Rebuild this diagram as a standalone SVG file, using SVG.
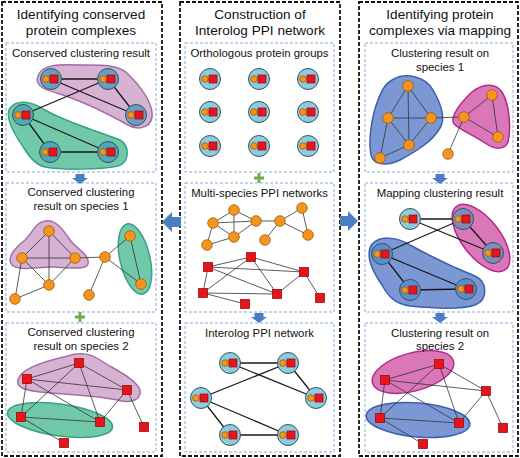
<svg xmlns="http://www.w3.org/2000/svg" width="520" height="458" viewBox="0 0 520 458">
<style>
.col{fill:none;stroke:#111;stroke-width:1.8;stroke-dasharray:4 2}
.pan{fill:#fff;stroke:#86a9d9;stroke-width:1;stroke-dasharray:3 2}
.ct{font-family:"Liberation Sans",Arial,sans-serif;font-size:13.6px;fill:#111;text-anchor:middle}
.pt{font-family:"Liberation Sans",Arial,sans-serif;font-size:11.4px;fill:#111;text-anchor:middle}
.e1{stroke:#1a1a1a;stroke-width:1.3;fill:none}
.e2{stroke:#333;stroke-width:0.8;fill:none}
.oc{stroke:#2b5766;stroke-width:1}
.o{fill:#f7941e;stroke:#9a5c06;stroke-width:0.8}
.r{fill:#e8141c;stroke:#8e0a0a;stroke-width:0.7}
.nb{fill:#90cade}
.npk{fill:#6c9cbf}
.ngr{fill:#4ea8b6}
.nmg{fill:#7f8bbd}
.nbl{fill:#5b8dc8}
.cpk{fill:#d7b2d2;stroke:#a26fa2;stroke-width:1.5}
.cgr{fill:#72c9aa;stroke:#36a384;stroke-width:1.5}
.cbl{fill:#7b98d5;stroke:#3b5fae;stroke-width:1.5}
.cmg{fill:#d977b9;stroke:#b3288b;stroke-width:1.5}
.arr{fill:#4a7dc2}
.plus{fill:#6fac46}
</style>
<defs>
<g id="pn"><circle class="oc" r="10.5"/><circle class="o" cx="-5" r="3.3"/><rect class="r" x="-1" y="-4" width="8" height="8"/></g>
<circle id="on" class="o" r="5.3"/>
<rect id="rn" class="r" x="-4.6" y="-4.6" width="9.2" height="9.2"/>
</defs>

<g id="columns">
<rect class="col" x="2" y="2" width="160" height="454"/>
<rect class="col" x="180" y="2" width="160" height="454"/>
<rect class="col" x="359" y="2" width="159" height="454"/>
</g>
<g id="panels">
<rect class="pan" x="6" y="43" width="150" height="129"/>
<rect class="pan" x="6" y="183" width="150" height="129"/>
<rect class="pan" x="6" y="323" width="150" height="129"/>
<rect class="pan" x="185" y="43" width="149" height="129"/>
<rect class="pan" x="185" y="183" width="149" height="129"/>
<rect class="pan" x="185" y="323" width="149" height="129"/>
<rect class="pan" x="365" y="43" width="148" height="129"/>
<rect class="pan" x="365" y="183" width="148" height="129"/>
<rect class="pan" x="365" y="323" width="148" height="129"/>
</g>

<g id="clusters">
<path class="cpk" d="M38,76 C42,64 60,64 80,65 C100,65 118,64 128,74 C138,84 150,98 152,112 C154,126 140,132 128,125 C110,115 85,102 60,94 C45,90 34,86 38,76 Z"/>
<path class="cgr" d="M10,108 C16,100 30,100 45,110 C65,122 100,132 120,140 C130,146 130,162 118,166 C100,170 60,170 45,167 C35,165 28,155 22,145 C15,135 4,118 10,108 Z"/>
<path class="cpk" d="M45,221 C55,219 62,228 70,240 C78,250 90,255 88,264 C86,270 70,268 55,267 C40,266 20,272 12,265 C6,258 15,248 25,240 C33,232 36,222 45,221 Z"/>
<ellipse class="cgr" cx="135" cy="259" rx="15" ry="36" transform="rotate(-13 135 259)"/>
<path class="cpk" d="M18,380 C20,368 50,360 68,356 C78,352 90,353 100,360 C115,370 135,378 140,390 C142,400 130,404 118,400 C95,395 60,394 40,392 C25,390 16,388 18,380 Z"/>
<ellipse class="cgr" cx="60" cy="420" rx="53" ry="16" transform="rotate(8 60 420)"/>
<path class="cbl" d="M392,80 C405,72 425,76 433,90 C440,102 446,118 440,128 C432,142 415,152 400,160 C388,166 374,166 371,155 C368,140 372,115 378,100 C382,90 385,84 392,80 Z"/>
<path class="cmg" d="M472,92 C482,84 495,82 502,92 C510,105 511,130 508,142 C505,150 495,150 485,143 C475,136 460,130 454,124 C450,118 458,105 472,92 Z"/>
<ellipse class="cmg" cx="481" cy="238" rx="40" ry="19" transform="rotate(52 481 238)"/>
<path class="cbl" d="M372,244 C380,236 395,236 410,245 C430,256 455,268 475,276 C488,282 488,300 475,305 C460,310 430,308 410,306 C395,304 388,296 382,285 C375,275 364,256 372,244 Z"/>
<ellipse class="cmg" cx="413" cy="372" rx="42" ry="19" transform="rotate(-15 413 372)"/>
<ellipse class="cbl" cx="418" cy="420" rx="52" ry="17" transform="rotate(5 418 420)"/>
</g>

<g id="connectors">
<path class="e1" d="M51,79 L108,79 M51,79 L136,115 M108,79 L136,115 M108,79 L23,115 M23,115 L50,152 M23,115 L108,152 M50,152 L108,152"/>
<path class="e1" d="M230,363 L288,363 M230,363 L316,398 M288,363 L316,398 M288,363 L201,398 M201,398 L230,435 M201,398 L288,435 M230,435 L288,435"/>
<path class="e1" d="M410,219 L463,219 M410,219 L493,253 M463,219 L493,253 M463,219 L382,254 M382,254 L410,290 M382,254 L466,289 M410,290 L466,289"/>
<path class="e2" d="M49,231 L22,258 M49,231 L75,258 M49,231 L49,285 M22,258 L75,258 M22,258 L49,285 M75,258 L49,285 M22,258 L15,299 M15,299 L49,285 M75,258 L105,257 M105,257 L130,236 M105,257 L141,284 M130,236 L141,284 M105,257 L89,295"/>
<path class="e2" d="M234,210 L213,223 M234,210 L256,221 M234,210 L234,237 M213,223 L256,221 M213,223 L234,237 M256,221 L234,237 M213,223 L207,245 M207,245 L234,237 M256,221 L280,221 M280,221 L302,208 M280,221 L308,235 M302,208 L308,235 M280,221 L265,240"/>
<path class="e2" d="M408,86 L388,118 M408,86 L431,118 M408,86 L409,145 M388,118 L431,118 M388,118 L409,145 M431,118 L409,145 M388,118 L380,158 M380,158 L409,145 M431,118 L464,117 M464,117 L492,95 M464,117 L498,137 M492,95 L498,137 M464,117 L448,154"/>
<path class="e2" d="M79,363 L27,379 M79,363 L127,390 M79,363 L21,417 M79,363 L100,422 M27,379 L127,390 M27,379 L21,417 M27,379 L100,422 M127,390 L100,422 M127,390 L144,427 M21,417 L100,422 M21,417 L64,443"/>
<path class="e2" d="M251,257 L208,267 M251,257 L304,272 M251,257 L203,293 M251,257 L277,294 M208,267 L304,272 M208,267 L203,293 M208,267 L277,294 M304,272 L277,294 M304,272 L320,298 M203,293 L277,294 M203,293 L245,304"/>
<path class="e2" d="M439,364 L385,380 M439,364 L486,391 M439,364 L380,418 M439,364 L459,423 M385,380 L486,391 M385,380 L380,418 M385,380 L459,423 M486,391 L459,423 M486,391 L503,428 M380,418 L459,423 M380,418 L423,444"/>
</g>

<g id="nodes-L1">
<g id="L1a"><use href="#pn" class="npk" x="51" y="79"/></g>
<g id="L1b"><use href="#pn" class="npk" x="108" y="79"/></g>
<g id="L1c"><use href="#pn" class="npk" x="136" y="115"/></g>
<g id="L1d"><use href="#pn" class="ngr" x="23" y="115"/></g>
<g id="L1e"><use href="#pn" class="ngr" x="50" y="152"/></g>
<g id="L1f"><use href="#pn" class="ngr" x="108" y="152"/></g>
</g>
<g id="nodes-L2">
<g id="L2a"><use href="#on" x="49" y="231"/></g>
<g id="L2b"><use href="#on" x="22" y="258"/></g>
<g id="L2c"><use href="#on" x="75" y="258"/></g>
<g id="L2d"><use href="#on" x="49" y="285"/></g>
<g id="L2e"><use href="#on" x="15" y="299"/></g>
<g id="L2f"><use href="#on" x="105" y="257"/></g>
<g id="L2g"><use href="#on" x="130" y="236"/></g>
<g id="L2h"><use href="#on" x="141" y="284"/></g>
<g id="L2i"><use href="#on" x="89" y="295"/></g>
</g>
<g id="nodes-L3">
<g id="L3a"><use href="#rn" x="79" y="363"/></g>
<g id="L3b"><use href="#rn" x="27" y="379"/></g>
<g id="L3c"><use href="#rn" x="127" y="390"/></g>
<g id="L3d"><use href="#rn" x="21" y="417"/></g>
<g id="L3e"><use href="#rn" x="100" y="422"/></g>
<g id="L3f"><use href="#rn" x="144" y="427"/></g>
<g id="L3g"><use href="#rn" x="64" y="443"/></g>
</g>
<g id="nodes-M1">
<g id="M1a"><use href="#pn" class="nb" x="210" y="79"/></g>
<g id="M1b"><use href="#pn" class="nb" x="259" y="79"/></g>
<g id="M1c"><use href="#pn" class="nb" x="308" y="79"/></g>
<g id="M1d"><use href="#pn" class="nb" x="210" y="112"/></g>
<g id="M1e"><use href="#pn" class="nb" x="259" y="112"/></g>
<g id="M1f"><use href="#pn" class="nb" x="308" y="112"/></g>
<g id="M1g"><use href="#pn" class="nb" x="210" y="146"/></g>
<g id="M1h"><use href="#pn" class="nb" x="259" y="146"/></g>
<g id="M1i"><use href="#pn" class="nb" x="308" y="146"/></g>
</g>
<g id="nodes-M2">
<g id="M2a"><use href="#on" x="234" y="210"/></g>
<g id="M2b"><use href="#on" x="213" y="223"/></g>
<g id="M2c"><use href="#on" x="256" y="221"/></g>
<g id="M2d"><use href="#on" x="234" y="237"/></g>
<g id="M2e"><use href="#on" x="207" y="245"/></g>
<g id="M2f"><use href="#on" x="280" y="221"/></g>
<g id="M2g"><use href="#on" x="302" y="208"/></g>
<g id="M2h"><use href="#on" x="308" y="235"/></g>
<g id="M2i"><use href="#on" x="265" y="240"/></g>
<g id="M2r1"><use href="#rn" x="251" y="257"/></g>
<g id="M2r2"><use href="#rn" x="208" y="267"/></g>
<g id="M2r3"><use href="#rn" x="304" y="272"/></g>
<g id="M2r4"><use href="#rn" x="203" y="293"/></g>
<g id="M2r5"><use href="#rn" x="277" y="294"/></g>
<g id="M2r6"><use href="#rn" x="320" y="298"/></g>
<g id="M2r7"><use href="#rn" x="245" y="304"/></g>
</g>
<g id="nodes-M3">
<g id="M3a"><use href="#pn" class="nb" x="230" y="363"/></g>
<g id="M3b"><use href="#pn" class="nb" x="288" y="363"/></g>
<g id="M3c"><use href="#pn" class="nb" x="316" y="398"/></g>
<g id="M3d"><use href="#pn" class="nb" x="201" y="398"/></g>
<g id="M3e"><use href="#pn" class="nb" x="230" y="435"/></g>
<g id="M3f"><use href="#pn" class="nb" x="288" y="435"/></g>
</g>
<g id="nodes-R1">
<g id="R1a"><use href="#on" x="408" y="86"/></g>
<g id="R1b"><use href="#on" x="388" y="118"/></g>
<g id="R1c"><use href="#on" x="431" y="118"/></g>
<g id="R1d"><use href="#on" x="409" y="145"/></g>
<g id="R1e"><use href="#on" x="380" y="158"/></g>
<g id="R1f"><use href="#on" x="464" y="117"/></g>
<g id="R1g"><use href="#on" x="492" y="95"/></g>
<g id="R1h"><use href="#on" x="498" y="137"/></g>
<g id="R1i"><use href="#on" x="448" y="154"/></g>
</g>
<g id="nodes-R2">
<g id="R2a"><use href="#pn" class="nb" x="410" y="219"/></g>
<g id="R2b"><use href="#pn" class="nmg" x="463" y="219"/></g>
<g id="R2c"><use href="#pn" class="nmg" x="493" y="253"/></g>
<g id="R2d"><use href="#pn" class="nbl" x="382" y="254"/></g>
<g id="R2e"><use href="#pn" class="nbl" x="410" y="290"/></g>
<g id="R2f"><use href="#pn" class="nbl" x="466" y="289"/></g>
</g>
<g id="nodes-R3">
<g id="R3a"><use href="#rn" x="439" y="364"/></g>
<g id="R3b"><use href="#rn" x="385" y="380"/></g>
<g id="R3c"><use href="#rn" x="486" y="391"/></g>
<g id="R3d"><use href="#rn" x="380" y="418"/></g>
<g id="R3e"><use href="#rn" x="459" y="423"/></g>
<g id="R3f"><use href="#rn" x="503" y="428"/></g>
<g id="R3g"><use href="#rn" x="423" y="444"/></g>
</g>

<g id="flow">
<polygon class="arr" points="162,222 172,212 172,217 181,217 181,227 172,227 172,232"/>
<polygon class="arr" points="358,221 348,211 348,216 340,216 340,226 348,226 348,231"/>
<path class="arr" d="M75.5,174 h9 v4 h3.5 L80,184 L72,178 h3.5 Z"/>
<path class="arr" d="M435.5,174 h9 v4 h3.5 L440,184 L432,178 h3.5 Z"/>
<path class="arr" d="M254.5,313 h9 v4 h3.5 L259,323 L251,317 h3.5 Z"/>
<path class="arr" d="M435.5,313 h9 v4 h3.5 L440,323 L432,317 h3.5 Z"/>
<path class="plus" d="M75,315.6 h10 v2.8 h-10 Z M78.6,312 h2.8 v10 h-2.8 Z"/>
<path class="plus" d="M254,176.6 h10 v2.8 h-10 Z M257.6,173 h2.8 v10 h-2.8 Z"/>
</g>

<g id="labels">
<text class="ct" x="81" y="19">Identifying conserved</text>
<text class="ct" x="81" y="35">protein complexes</text>
<text class="ct" x="260" y="19">Construction of</text>
<text class="ct" x="260" y="35">Interolog PPI network</text>
<text class="ct" x="440" y="19">Identifying protein</text>
<text class="ct" x="440" y="35">complexes via mapping</text>
<text class="pt" x="81" y="57">Conserved clustering result</text>
<text class="pt" x="81" y="196">Conserved clustering</text>
<text class="pt" x="81" y="210">result on species 1</text>
<text class="pt" x="81" y="336">Conserved clustering</text>
<text class="pt" x="81" y="350">result on species 2</text>
<text class="pt" x="259.5" y="57">Orthologous protein groups</text>
<text class="pt" x="259.5" y="197">Multi-species PPI networks</text>
<text class="pt" x="259.5" y="337">Interolog PPI network</text>
<text class="pt" x="440" y="57">Clustering result on</text>
<text class="pt" x="440" y="71">species 1</text>
<text class="pt" x="440" y="197">Mapping clustering result</text>
<text class="pt" x="440" y="337">Clustering result on</text>
<text class="pt" x="440" y="350">species 2</text>
</g>
</svg>
